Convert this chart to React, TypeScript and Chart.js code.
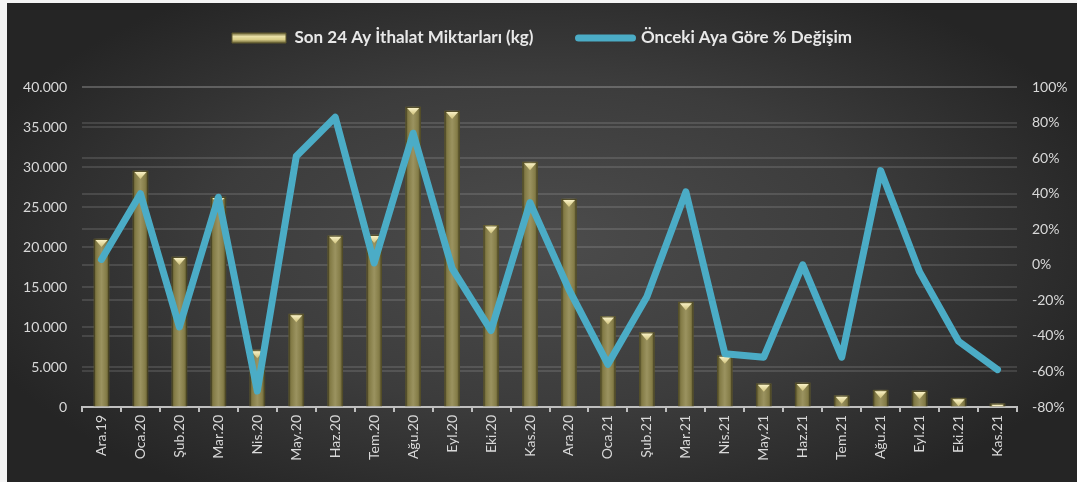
import { useEffect, useRef } from 'react';
import { Chart, registerables } from 'chart.js';

Chart.register(...registerables);

const categories = [
  'Ara.19', 'Oca.20', 'Şub.20', 'Mar.20', 'Nis.20', 'May.20', 'Haz.20', 'Tem.20',
  'Ağu.20', 'Eyl.20', 'Eki.20', 'Kas.20', 'Ara.20', 'Oca.21', 'Şub.21', 'Mar.21',
  'Nis.21', 'May.21', 'Haz.21', 'Tem.21', 'Ağu.21', 'Eyl.21', 'Eki.21', 'Kas.21',
];

const importKg = [
  21000, 29500, 18750, 26250, 7100, 11600, 21400, 21500,
  37500, 37000, 22700, 30600, 26000, 11300, 9300, 13100,
  6400, 2900, 3000, 1400, 2100, 2000, 1100, 400,
];

const changePct = [
  3, 40, -35, 38, -71, 61, 83, 1,
  74, -2, -37, 35, -14, -56, -18, 41,
  -50, -52, 0, -52, 53, -4, -43, -59,
];

const leftMin = 0;
const leftMax = 40000;
const leftStep = 5000;
const rightMin = -80;
const rightMax = 100;
const rightStep = 20;

const barLabel = 'Son 24 Ay İthalat Miktarları (kg)';
const lineLabel = 'Önceki Aya Göre % Değişim';

const LINE_COLOR = '#4bacc6';
const TEXT_COLOR = '#d9d9d9';
const GRID_COLOR = 'rgba(255,255,255,0.12)';
const FONT = "Lato, 'Open Sans', sans-serif";
const LEGEND_FS = 17;

const fmtThousands = (v: number) =>
  String(Math.round(v)).replace(/\B(?=(\d{3})+(?!\d))/g, '.');

const backgroundPlugin = {
  id: 'bgPlugin',
  beforeDraw(chart: any) {
    const { ctx, width, height } = chart;
    ctx.save();
    ctx.fillStyle = '#f4f4f4';
    ctx.fillRect(0, 0, width, height);
    const x0 = 7, y0 = 3;
    ctx.beginPath();
    ctx.rect(x0, y0, width - x0, height - y0);
    ctx.clip();
    ctx.fillStyle = '#252525';
    ctx.fillRect(x0, y0, width - x0, height - y0);
    const cx = (x0 + width) / 2;
    const cy = (y0 + height) / 2;
    ctx.translate(cx, cy);
    ctx.scale(1, 0.5);
    const g = ctx.createRadialGradient(0, 0, 0, 0, 0, 600);
    g.addColorStop(0, '#4c4c4c');
    g.addColorStop(0.55, '#3c3c3c');
    g.addColorStop(1, '#252525');
    ctx.fillStyle = g;
    ctx.fillRect(-cx, -cy * 2, width, height * 2);
    ctx.restore();
  },
};

const legendPlugin = {
  id: 'legendPlacement',
  beforeInit(chart: any) {
    const legend = chart.legend;
    if (!legend) return;
    const orig = legend.fit;
    legend.fit = function () {
      orig.call(this);
      this.height = 87;
    };
  },
  afterLayout(chart: any) {
    const legend = chart.legend;
    if (!legend) return;
    const pad = legend.options.labels.padding;
    legend.top = 38 - pad - LEGEND_FS / 2;
  },
};

const capPlugin = {
  id: 'barCaps',
  afterDatasetDraw(chart: any, args: any) {
    if (args.index !== 0) return;
    const { ctx } = chart;
    const meta = chart.getDatasetMeta(0);
    ctx.save();
    meta.data.forEach((el: any) => {
      const { x, y, base, width } = el.getProps(['x', 'y', 'base', 'width'], true);
      const left = x - width / 2;
      const right = x + width / 2;
      ctx.save();
      ctx.beginPath();
      ctx.rect(left, y, width, base - y);
      ctx.clip();
      ctx.strokeStyle = 'rgba(60,56,28,0.7)';
      ctx.lineWidth = 1;
      ctx.strokeRect(left + 0.5, y + 0.5, width - 1, base - y);
      const g = ctx.createLinearGradient(0, y, 0, y + 8);
      g.addColorStop(0, '#fff8cf');
      g.addColorStop(1, '#cfc27c');
      ctx.fillStyle = g;
      ctx.beginPath();
      ctx.moveTo(left + 1.5, y + 1);
      ctx.lineTo(right - 1.5, y + 1);
      ctx.lineTo(x, y + 8);
      ctx.closePath();
      ctx.fill();
      ctx.restore();
    });
    ctx.restore();
  },
};

export default function App() {
  const canvasRef = useRef<HTMLCanvasElement | null>(null);

  useEffect(() => {
    const canvas = canvasRef.current;
    if (!canvas) return;

    const barFill = (c: any) => {
      const chart = c.chart;
      const xs = chart.scales?.x;
      if (c.type !== 'data' || !xs) return '#8b8350';
      const cx = xs.getPixelForValue(c.dataIndex);
      const g = chart.ctx.createLinearGradient(cx - 7.5, 0, cx + 7.5, 0);
      g.addColorStop(0, '#5f592f');
      g.addColorStop(0.18, '#847c47');
      g.addColorStop(0.5, '#9b9360');
      g.addColorStop(0.82, '#857d48');
      g.addColorStop(1, '#5c562d');
      return g;
    };

    const chart = new Chart(canvas, {
      type: 'bar',
      data: {
        labels: categories,
        datasets: [
          {
            type: 'bar',
            label: barLabel,
            data: importKg,
            yAxisID: 'y',
            backgroundColor: barFill,
            borderWidth: 0,
            barThickness: 15,
            order: 1,
          },
          {
            type: 'line',
            label: lineLabel,
            data: changePct,
            yAxisID: 'y1',
            borderColor: LINE_COLOR,
            backgroundColor: LINE_COLOR,
            borderWidth: 7,
            pointRadius: 0,
            pointHoverRadius: 0,
            tension: 0,
            borderJoinStyle: 'round',
            borderCapStyle: 'round',
            order: 0,
          },
        ],
      },
      options: {
        animation: false,
        responsive: true,
        maintainAspectRatio: false,
        layout: { padding: { left: 7, right: 0, top: 0, bottom: 0 } },
        plugins: {
          tooltip: { enabled: false },
          legend: {
            display: true,
            position: 'top',
            align: 'center',
            labels: {
              padding: 45,
              usePointStyle: true,
              pointStyleWidth: 54,
              boxHeight: 10,
              color: '#e8e8e8',
              font: { family: FONT, size: LEGEND_FS, weight: 'bold' },
              generateLabels: (ch: any) => {
                const g = ch.ctx.createLinearGradient(0, 33, 0, 43);
                g.addColorStop(0, '#6d6638');
                g.addColorStop(0.35, '#e9e0a6');
                g.addColorStop(0.65, '#d8cd88');
                g.addColorStop(1, '#6a6335');
                return [
                  {
                    text: barLabel,
                    fillStyle: g,
                    strokeStyle: '#5e582e',
                    lineWidth: 1,
                    pointStyle: 'rect',
                    datasetIndex: 0,
                    hidden: false,
                    fontColor: '#e8e8e8',
                  },
                  {
                    text: lineLabel,
                    fillStyle: LINE_COLOR,
                    strokeStyle: LINE_COLOR,
                    lineWidth: 7,
                    lineCap: 'round',
                    pointStyle: 'line',
                    datasetIndex: 1,
                    hidden: false,
                    fontColor: '#e8e8e8',
                  },
                ];
              },
            },
          },
        },
        scales: {
          x: {
            offset: true,
            grid: {
              display: true,
              drawOnChartArea: false,
              drawTicks: true,
              tickLength: 5,
              color: '#bfbfbf',
              lineWidth: 2,
            },
            border: { display: true, color: '#bfbfbf', width: 2 },
            ticks: {
              color: TEXT_COLOR,
              font: { family: FONT, size: 14 },
              minRotation: 90,
              maxRotation: 90,
              padding: 3,
              autoSkip: false,
            },
            afterFit: (s: any) => {
              s.height = 75;
            },
          },
          y: {
            position: 'left',
            min: leftMin,
            max: leftMax,
            grid: { color: GRID_COLOR, lineWidth: 2, drawTicks: false },
            border: { display: false },
            ticks: {
              stepSize: leftStep,
              color: TEXT_COLOR,
              font: { family: FONT, size: 14 },
              padding: 15,
              callback: (v: any) => fmtThousands(Number(v)),
            },
            afterFit: (s: any) => {
              s.width = 75;
            },
          },
          y1: {
            position: 'right',
            min: rightMin,
            max: rightMax,
            grid: { color: GRID_COLOR, lineWidth: 2, drawTicks: false },
            border: { display: false },
            ticks: {
              stepSize: rightStep,
              color: TEXT_COLOR,
              font: { family: FONT, size: 14 },
              padding: 15,
              callback: (v: any) => `${v}%`,
            },
            afterFit: (s: any) => {
              s.width = 60;
            },
          },
        },
      },
      plugins: [backgroundPlugin, legendPlugin, capPlugin],
    } as any);

    return () => {
      chart.destroy();
    };
  }, []);

  return (
    <div style={{ position: 'fixed', left: 0, top: 0, width: 1077, height: 482 }}>
      <canvas ref={canvasRef} />
    </div>
  );
}
